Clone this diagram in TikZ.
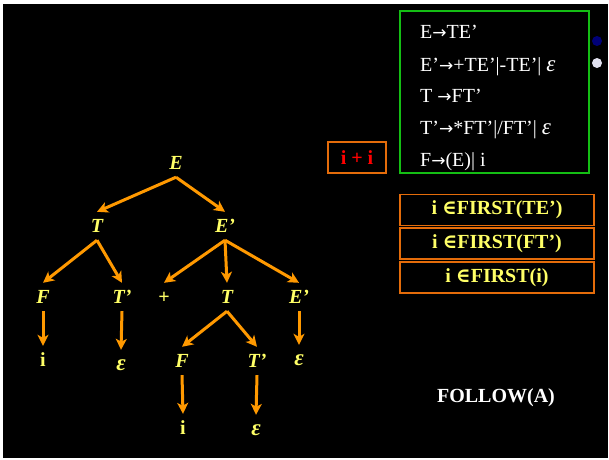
\documentclass[tikz,border=0pt]{standalone}
\usepackage{fontspec}
\setmainfont{Liberation Serif}
\newfontfamily\symfont{DejaVu Serif}
\newfontfamily\arrowfont{DejaVu Sans}
\usetikzlibrary{arrows.meta}

\definecolor{treeyellow}{RGB}{255,255,102}
\definecolor{branch}{RGB}{255,153,0}
\definecolor{boxorange}{RGB}{228,108,10}
\definecolor{rulegreen}{RGB}{20,190,20}
\definecolor{dotblue}{RGB}{0,0,120}
\definecolor{dotpale}{RGB}{225,225,240}

% epsilon drawn a little larger than the surrounding letters
\newcommand{\eps}{{\fontsize{23}{24}\selectfont ε}}
\newcommand{\elem}{{\symfont\bfseries ∈}}
\newcommand{\produces}{{\arrowfont\fontsize{17}{24}\selectfont →}}

\begin{document}
\begin{tikzpicture}[x=1pt,y=-1pt,
  sym/.style={text=treeyellow, font=\fontsize{20}{24}\selectfont\bfseries\itshape,
    text height=13pt, text depth=0pt, inner xsep=2pt, inner ysep=7.5pt},
  term/.style={sym, font=\fontsize{20}{24}\selectfont\bfseries},
  branchto/.style={draw=branch, line width=3pt,
    -{Stealth[length=11pt,width=11pt,inset=3pt]}},
  rule/.style={anchor=base west, text=white, inner sep=0pt,
    font=\fontsize{20}{24}\selectfont},
  firstbox/.style={draw=boxorange, line width=1.5pt, minimum width=194pt,
    minimum height=31pt, inner sep=0pt, text=treeyellow,
    font=\fontsize{20}{24}\selectfont\bfseries},
]
% page and slide background
\fill[white] (0,0) rectangle (609,459);
\fill[black] (3,4) rectangle (608,458);

% grammar rules
\node[draw=rulegreen, line width=1.5pt, minimum width=189pt, minimum height=162pt,
  inner sep=0pt] (rules) at (494.5,92) {};
\node[rule] (r1) at (420,38) {E\produces TE’};
\node[rule] (r2) at (420,71) {E’\produces +TE’|-TE’| \textit{\eps}};
\node[rule] (r3) at (420,102) {T \produces FT’};
\node[rule] (r4) at (420,134) {T’\produces *FT’|/FT’| \textit{\eps}};
\node[rule] (r5) at (420,166) {F\produces (E)| i};

% bullet dots
\fill[dotblue] (597,41) circle (5pt);
\fill[dotpale] (597,63) circle (5pt);

% input string
\node[draw=boxorange, line width=1.5pt, minimum width=58pt, minimum height=31pt,
  inner sep=0pt, text=red, font=\fontsize{20}{24}\selectfont\bfseries]
  (input) at (357,157.5) {i + i};

% FIRST facts
\node[firstbox] (f1) at (497,210) {i \elem FIRST(TE’)};
\node[firstbox] (f2) at (497,243.5) {i \elem FIRST(FT’)};
\node[firstbox] (f3) at (497,277.5) {i \elem FIRST(i)};

\node[text=white, font=\fontsize{20}{24}\selectfont\bfseries] (follow) at (496,398) {FOLLOW(A)};

% parse tree
\node[sym] (E) at (176,163) {E};
\node[sym] (T) at (97,226) {T};
\node[sym] (Ep) at (225,226) {E’};
\node[sym] (F1) at (43,297) {F};
\node[sym] (Tp1) at (122,297) {T’};
\node[term] (plus) at (164,297) {+};
\node[sym] (T2) at (227,297) {T};
\node[sym] (Ep2) at (299,297) {E’};
\node[term] (i1) at (43,360) {i};
\node[sym] (eps1) at (121,364) {\eps};
\node[sym] (F2) at (182,361) {F};
\node[sym] (Tp2) at (257,361) {T’};
\node[sym] (eps2) at (299,359) {\eps};
\node[term] (i2) at (183,428) {i};
\node[sym] (eps3) at (256,429) {\eps};

\draw[branchto] (E.south) -- (T.north);
\draw[branchto] (E.south) -- (Ep.north);
\draw[branchto] (T.south) -- (F1.north);
\draw[branchto] (T.south) -- (Tp1.north);
\draw[branchto] (Ep.south) -- (plus.north);
\draw[branchto] (Ep.south) -- (T2.north);
\draw[branchto] (Ep.south) -- (Ep2.north);
\draw[branchto] (F1.south) -- (i1.north);
\draw[branchto] (Tp1.south) -- (eps1.north);
\draw[branchto] (T2.south) -- (F2.north);
\draw[branchto] (T2.south) -- (Tp2.north);
\draw[branchto] (Ep2.south) -- (eps2.north);
\draw[branchto] (F2.south) -- (i2.north);
\draw[branchto] (Tp2.south) -- (eps3.north);
\end{tikzpicture}
\end{document}
